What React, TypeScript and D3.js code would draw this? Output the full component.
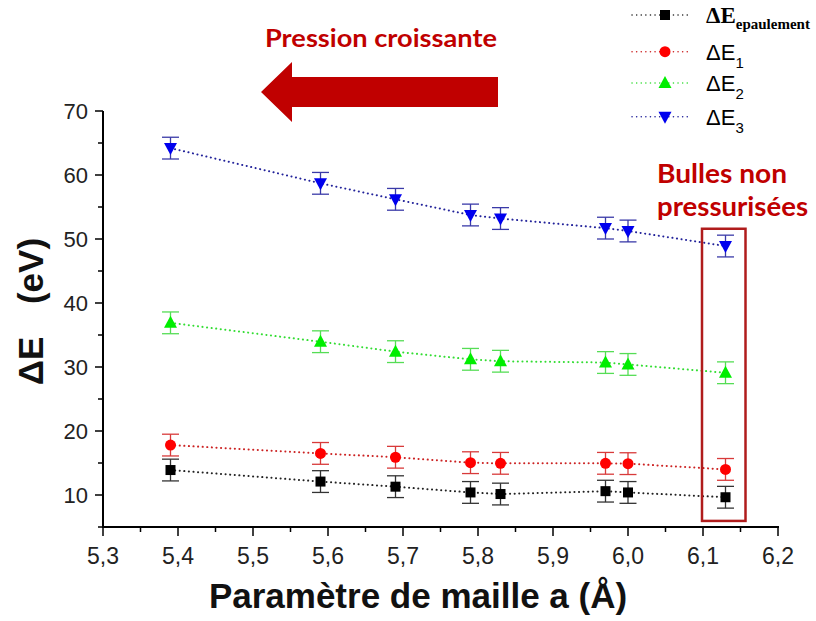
import React from "react";
import * as d3 from "d3";

const xValues = [5.39, 5.59, 5.69, 5.79, 5.83, 5.97, 6.0, 6.13];
const dEpaulement = [13.9, 12.1, 11.3, 10.4, 10.15, 10.6, 10.4, 9.65];
const dE1 = [17.8, 16.5, 15.9, 15.05, 14.95, 14.95, 14.9, 14.0];
const dE2 = [36.9, 33.95, 32.4, 31.2, 30.9, 30.7, 30.4, 29.1];
const dE3 = [64.2, 58.7, 56.2, 53.75, 53.2, 51.7, 51.25, 48.9];
const errHalf = 1.7;

const xTicks = [5.3, 5.4, 5.5, 5.6, 5.7, 5.8, 5.9, 6.0, 6.1, 6.2];
const xTickLabels = ["5,3", "5,4", "5,5", "5,6", "5,7", "5,8", "5,9", "6,0", "6,1", "6,2"];
const yTicks = [10, 20, 30, 40, 50, 60, 70];
const yTickLabels = ["10", "20", "30", "40", "50", "60", "70"];

const seriesNames = ["epaulement", "1", "2", "3"];
const seriesValues = [dEpaulement, dE1, dE2, dE3];

const markerColors = ["#000000", "#ff0000", "#00ee00", "#0000ee"];
const lineColors = ["#222222", "#cc2222", "#33dd33", "#22229a"];
const barColors = ["#333333", "#d83a3a", "#55dd55", "#3a3aa8"];
const shapes = ["square", "circle", "triangle", "triangleDown"];

const W = 816;
const H = 621;

function Marker({ shape, x, y, color }: { shape: string; x: number; y: number; color: string }) {
  if (shape === "square") {
    return <rect x={x - 5} y={y - 5} width={10} height={10} fill={color} />;
  }
  if (shape === "circle") {
    return <circle cx={x} cy={y} r={5.5} fill={color} />;
  }
  if (shape === "triangle") {
    return <path d={`M${x},${y - 7}L${x + 6.5},${y + 5}L${x - 6.5},${y + 5}Z`} fill={color} />;
  }
  return <path d={`M${x},${y + 7}L${x + 6.5},${y - 5}L${x - 6.5},${y - 5}Z`} fill={color} />;
}

export default function App() {
  const x = d3.scaleLinear().domain([5.3, 6.2]).range([103, 778]);
  const y = d3.scaleLinear().domain([5, 70]).range([527, 111]);
  const minorX = d3.range(0, 19).map((i) => 5.3 + i * 0.05);
  const minorY = d3.range(5, 71, 5);
  const line = d3
    .line<number>()
    .x((_, i) => x(xValues[i]))
    .y((d) => y(d));

  const axisFont = "'Liberation Sans', Arial, sans-serif";
  const calFont = "Lato, 'Open Sans', sans-serif";
  const red = "#c00000";

  const legendY = [15, 51.7, 83, 116.7];

  return (
    <div style={{ position: "fixed", left: 0, top: 0 }}>
      <svg width={W} height={H} style={{ display: "block", background: "#fff" }}>
        {/* Axes */}
        <line x1={x(5.3)} x2={x(5.3)} y1={y(70)} y2={y(5) + 1} stroke="#000" strokeWidth={2} />
        <line x1={x(5.3) - 1} x2={x(6.2) + 1} y1={y(5)} y2={y(5)} stroke="#000" strokeWidth={2} />
        {minorY.map((v) => (
          <line
            key={"my" + v}
            x1={x(5.3)}
            x2={x(5.3) - (v % 10 === 0 ? 8 : 5)}
            y1={y(v)}
            y2={y(v)}
            stroke="#000"
            strokeWidth={1.5}
          />
        ))}
        {minorX.map((v, i) => (
          <line
            key={"mx" + i}
            x1={x(v)}
            x2={x(v)}
            y1={y(5)}
            y2={y(5) + (i % 2 === 0 ? 9 : 5)}
            stroke="#000"
            strokeWidth={1.5}
          />
        ))}
        {yTicks.map((v, i) => (
          <text
            key={"yt" + v}
            x={x(5.3) - 15}
            y={y(v)}
            dy="0.36em"
            textAnchor="end"
            fontFamily={axisFont}
            fontSize={22}
            fill="#222"
          >
            {yTickLabels[i]}
          </text>
        ))}
        {xTicks.map((v, i) => (
          <text
            key={"xt" + v}
            x={x(v)}
            y={y(5) + 37}
            textAnchor="middle"
            fontFamily={axisFont}
            fontSize={23}
            fill="#222"
          >
            {xTickLabels[i]}
          </text>
        ))}

        {/* Axis titles */}
        <text
          x={418}
          y={608}
          textAnchor="middle"
          fontFamily={axisFont}
          fontWeight="bold"
          fontSize={35}
          fill="#111"
        >
          Paramètre de maille a (Å)
        </text>
        <text
          transform="translate(43,361) rotate(-90)"
          textAnchor="middle"
          fontFamily={axisFont}
          fontWeight="bold"
          fontSize={35}
          fill="#111"
        >
          ΔE
        </text>
        <text
          transform="translate(43,271) rotate(-90)"
          textAnchor="middle"
          fontFamily={axisFont}
          fontWeight="bold"
          fontSize={35}
          fill="#111"
        >
          (eV)
        </text>

        {/* Series */}
        {seriesValues.map((vals, s) => (
          <g key={"s" + s}>
            <path
              d={line(vals) || ""}
              fill="none"
              stroke={lineColors[s]}
              strokeWidth={2}
              strokeDasharray="0.1,4.5"
              strokeLinecap="round"
            />
            {vals.map((v, i) => {
              const cx = x(xValues[i]);
              return (
                <g key={i} stroke={barColors[s]} strokeWidth={1.3}>
                  <line x1={cx} x2={cx} y1={y(v + errHalf)} y2={y(v - errHalf)} />
                  <line x1={cx - 8.5} x2={cx + 8.5} y1={y(v + errHalf)} y2={y(v + errHalf)} />
                  <line x1={cx - 8.5} x2={cx + 8.5} y1={y(v - errHalf)} y2={y(v - errHalf)} />
                </g>
              );
            })}
            {vals.map((v, i) => (
              <Marker key={"m" + i} shape={shapes[s]} x={x(xValues[i])} y={y(v)} color={markerColors[s]} />
            ))}
          </g>
        ))}

        {/* Red box around non-pressurized bubbles */}
        <rect
          x={x(6.1) - 1}
          y={y(51.6)}
          width={x(6.158) - x(6.1)}
          height={y(5.95) - y(51.6)}
          fill="none"
          stroke="#b01c1c"
          strokeWidth={2.5}
        />
        <text
          x={657}
          y={183}
          fontFamily={calFont}
          fontWeight="bold"
          fontSize={26}
          fill={red}
          textLength={130}
          lengthAdjust="spacingAndGlyphs"
        >
          Bulles non
        </text>
        <text
          x={657}
          y={216}
          fontFamily={calFont}
          fontWeight="bold"
          fontSize={26}
          fill={red}
          textLength={151}
          lengthAdjust="spacingAndGlyphs"
        >
          pressurisées
        </text>

        {/* Pressure arrow */}
        <text
          x={265}
          y={47}
          fontFamily={calFont}
          fontWeight="bold"
          fontSize={24}
          fill={red}
          textLength={232}
          lengthAdjust="spacingAndGlyphs"
        >
          Pression croissante
        </text>
        <path d="M261,92 L292,62 L292,77 L498,77 L498,107 L292,107 L292,122 Z" fill={red} />

        {/* Legend */}
        {seriesNames.map((name, s) => (
          <g key={"lg" + s}>
            <line
              x1={632}
              x2={688}
              y1={legendY[s]}
              y2={legendY[s]}
              stroke={lineColors[s]}
              strokeWidth={1.5}
              strokeDasharray="0.1,4.5"
              strokeLinecap="round"
            />
            <Marker shape={shapes[s]} x={665} y={legendY[s]} color={markerColors[s]} />
            {s === 0 ? (
              <text
                x={706}
                y={legendY[s] + 8}
                fontFamily="'Liberation Serif', 'Times New Roman', serif"
                fontWeight="bold"
                fontSize={23}
                fill="#000"
              >
                ΔE
                <tspan fontSize={15} dy={6} fill="#000">
                  {name}
                </tspan>
              </text>
            ) : (
              <text x={706} y={legendY[s] + 8} fontFamily={axisFont} fontSize={22} fill="#000">
                ΔE
                <tspan fontSize={15} dy={8} fill="#000">
                  {name}
                </tspan>
              </text>
            )}
          </g>
        ))}
      </svg>
    </div>
  );
}
